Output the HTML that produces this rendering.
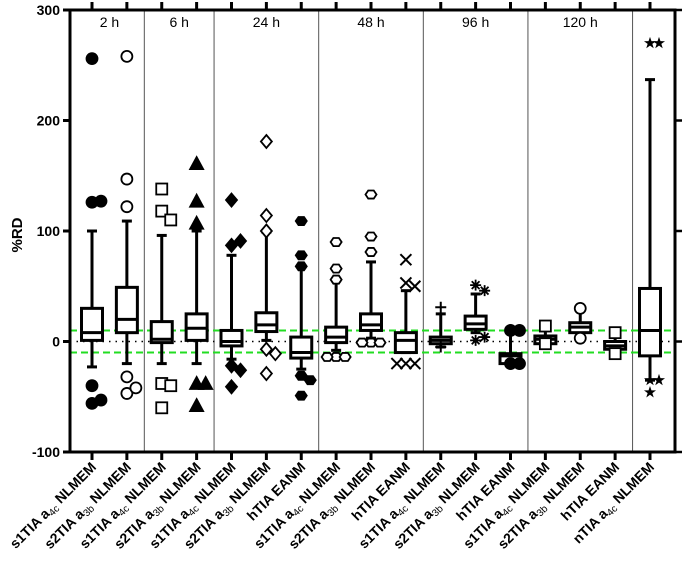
<!DOCTYPE html>
<html><head><meta charset="utf-8"><style>
html,body{margin:0;padding:0;background:#fff;}
svg{display:block;font-family:"Liberation Sans",sans-serif;}
</style></head><body>
<svg id="chart" width="685" height="566" viewBox="0 0 685 566"></svg>
<script>
const categories = ["s1TIA|4c|NLMEM","s2TIA|3b|NLMEM","s1TIA|4c|NLMEM","s2TIA|3b|NLMEM","s1TIA|4c|NLMEM","s2TIA|3b|NLMEM","hTIA||EANM","s1TIA|4c|NLMEM","s2TIA|3b|NLMEM","hTIA||EANM","s1TIA|4c|NLMEM","s2TIA|3b|NLMEM","hTIA||EANM","s1TIA|4c|NLMEM","s2TIA|3b|NLMEM","hTIA||EANM","nTIA|4c|NLMEM"];
const groups = ["2 h","6 h","24 h","48 h","96 h","120 h",""];
const groupSizes = [2,2,3,3,3,3,1];
const q1 = [1,8,-1,1,-4,9,-15,-1,10,-10,-2,11,-20,-2,8,-7,-13];
const median = [8,20,2,12,0,15,-10,4,15,1,1,16,-13,2,13,-4,10];
const q3 = [30,49,18,25,10,26,4,13,25,8,4,23,-11,5,17,0,48];
const whiskerLow = [-23,-20,-20,-20,-16,1,-25,-8,3,-10,-5,8,-20,-5,4,-13,-35];
const whiskerHigh = [100,109,96,100,78,99,68,55,72,46,25,43,10,14,30,10,237];
const outliers = [
  [256,126,127,-40,-56,-53],
  [258,147,122,-32,-47,-42],
  [138,118,110,-38,-40,-60],
  [161,127,107,-38,-38,-58],
  [128,87,91,-22,-26,-41],
  [181,114,100,-7,-11,-29],
  [109,78,68,-31,-35,-49],
  [90,66,56,-14,-14,-14],
  [133,95,81,-1,-1,-1],
  [74,53,50,-20,-20,-20],
  [31,-5],
  [51,46,1,4],
  [10,10,-20,-20],
  [14,-2],
  [30,3],
  [8,-11],
  [270,270,-35,-35,-46]
];
const markers = ["circle-f","circle-o","square-o","triangle-f","diamond-f","diamond-o","hex-f","hex-o","hex-o2","x","plus","asterisk","circle-f","square-o","circle-o","square-o","star"];
const yTicks = [-100,0,100,200,300];
const refLines = [-10,10];

const NS="http://www.w3.org/2000/svg";
const svg=document.getElementById('chart');
const L=70,R=675,T=10,B=452;
const yMin=-100,yMax=300;
const y=v=>B-(v-yMin)/(yMax-yMin)*(B-T);
const x0=92,dx=34.875;
const x=i=>x0+i*dx;
function el(tag,attrs,parent){const e=document.createElementNS(NS,tag);for(const k in attrs)e.setAttribute(k,attrs[k]);(parent||svg).appendChild(e);return e;}

// group separators
let idx=0;
groupSizes.forEach((n,g)=>{
  const cx=(x(idx)+x(idx+n-1))/2;
  if(groups[g]){
    const t=el('text',{x:cx,y:27,'text-anchor':'middle','font-size':14,fill:'#000'});
    t.textContent=groups[g];
    
    
  }
  idx+=n;
  if(idx<categories.length){
    const sx=(x(idx-1)+x(idx))/2;
    const ln=el('line',{x1:sx,x2:sx,y1:T,y2:B,stroke:'#555','stroke-width':1});
    
    
  }
});

// reference lines
refLines.forEach(v=>{
  const ln=el('line',{x1:L,x2:R,y1:y(v),y2:y(v),stroke:'#22dd22','stroke-width':2,'stroke-dasharray':'7,4'});
  
  
});
const zl=el('line',{x1:L,x2:R,y1:y(0),y2:y(0),stroke:'#000','stroke-width':1.5,'stroke-dasharray':'1.5,5'});



function marker(type,cx,cy){
  const g=el('g',{});
  const s=5.5;
  const f=type.endsWith('-f')||type==='star';
  const fill=f?'#000':'#fff';
  const st={stroke:'#000','stroke-width':1.8,fill:fill};
  if(type.startsWith('circle')) el('circle',Object.assign({cx,cy,r:s},st),g);
  else if(type.startsWith('square')) el('rect',Object.assign({x:cx-s,y:cy-s,width:2*s,height:2*s},st),g);
  else if(type.startsWith('triangle')) el('polygon',Object.assign({points:`${cx},${cy-s-1} ${cx+s+1},${cy+s} ${cx-s-1},${cy+s}`},st),g);
  else if(type.startsWith('diamond')) el('polygon',Object.assign({points:`${cx},${cy-s-1} ${cx+s},${cy} ${cx},${cy+s+1} ${cx-s},${cy}`},st),g);
  else if(type.startsWith('hex')){let p=[];for(let k=0;k<6;k++){const a=Math.PI/3*k;p.push((cx+s*Math.cos(a))+','+(cy+s*0.85*Math.sin(a)));}el('polygon',Object.assign({points:p.join(' ')},st),g);}
  else if(type==='x'){el('path',{d:`M${cx-s},${cy-s}L${cx+s},${cy+s}M${cx+s},${cy-s}L${cx-s},${cy+s}`,stroke:'#000','stroke-width':2},g);}
  else if(type==='plus'){el('path',{d:`M${cx-s},${cy}L${cx+s},${cy}M${cx},${cy-s}L${cx},${cy+s}`,stroke:'#000','stroke-width':2},g);}
  else if(type==='asterisk'){let d='';for(let k=0;k<4;k++){const a=Math.PI/4*k;d+=`M${cx-s*Math.cos(a)},${cy-s*Math.sin(a)}L${cx+s*Math.cos(a)},${cy+s*Math.sin(a)}`;}el('path',{d,stroke:'#000','stroke-width':1.8},g);}
  else if(type==='star'){let p=[];for(let k=0;k<10;k++){const r=k%2?s*0.45:s*1.15;const a=-Math.PI/2+Math.PI/5*k;p.push((cx+r*Math.cos(a))+','+(cy+r*Math.sin(a)));}el('polygon',{points:p.join(' '),fill:'#000'},g);}
  return g;
}

// boxes
categories.forEach((c,i)=>{
  const cx=x(i),w=10.5;
  const g=el('g',{});
  
  
  const sw=3;
  el('line',{x1:cx,x2:cx,y1:y(whiskerHigh[i]),y2:y(q3[i]),stroke:'#000','stroke-width':sw},g);
  el('line',{x1:cx,x2:cx,y1:y(q1[i]),y2:y(whiskerLow[i]),stroke:'#000','stroke-width':sw},g);
  el('line',{x1:cx-5,x2:cx+5,y1:y(whiskerHigh[i]),y2:y(whiskerHigh[i]),stroke:'#000','stroke-width':sw},g);
  el('line',{x1:cx-5,x2:cx+5,y1:y(whiskerLow[i]),y2:y(whiskerLow[i]),stroke:'#000','stroke-width':sw},g);
  el('rect',{x:cx-w,y:y(q3[i]),width:2*w,height:Math.max(1,y(q1[i])-y(q3[i])),fill:'#fff',stroke:'#000','stroke-width':sw},g);
  el('line',{x1:cx-w,x2:cx+w,y1:y(median[i]),y2:y(median[i]),stroke:'#000','stroke-width':sw},g);
  // outliers with jitter for near-equal values
  const placed=[];
  outliers[i].forEach(v=>{
    const near=placed.filter(p=>Math.abs(p-v)<9).length;
    placed.push(v);
    const off=near===0?0:(near%2?1:-1)*Math.ceil(near/2)*9;
    const m=marker(markers[i],cx+off,y(v));
    
    
    g.appendChild(m);
  });
});

// axes
const ax=el('path',{d:`M${L},${T}L${L},${B}L${R},${B}L${R},${T}L${L},${T}`,fill:'none',stroke:'#000','stroke-width':3});


yTicks.forEach(v=>{
  const tl=el('line',{x1:L-7,x2:L,y1:y(v),y2:y(v),stroke:'#000','stroke-width':3});
  
  
  const tr=el('line',{x1:R,x2:R+7,y1:y(v),y2:y(v),stroke:'#000','stroke-width':2.5});
  
  
  const t=el('text',{x:L-10,y:y(v)+5,'text-anchor':'end','font-size':14,'font-weight':'bold'});
  t.textContent=v;
  
  
});
const yt=el('text',{x:0,y:0,transform:'translate(22,235) rotate(-90)','text-anchor':'middle','font-size':15,'font-weight':'bold'});
yt.textContent='%RD';



categories.forEach((c,i)=>{
  const cx=x(i);
  const tb=el('line',{x1:cx,x2:cx,y1:B,y2:B+8,stroke:'#000','stroke-width':3});
  
  
  const tt=el('line',{x1:cx,x2:cx,y1:T-8,y2:T,stroke:'#000','stroke-width':3});
  
  
  const [a,sub,b]=c.split('|');
  const t=el('text',{x:0,y:0,transform:`translate(${cx+5},${B+16}) rotate(-45)`,'text-anchor':'end','font-size':14,'font-weight':'bold'});
  
  
  if(sub){
    const s1=el('tspan',{},t);s1.textContent=a+' a';
    const s2=el('tspan',{'font-size':10,'font-weight':'normal',dy:3},t);s2.textContent=sub;
    const s3=el('tspan',{dy:-3},t);s3.textContent=' '+b;
  } else t.textContent=a+' '+b;
});
</script>
</body></html>
